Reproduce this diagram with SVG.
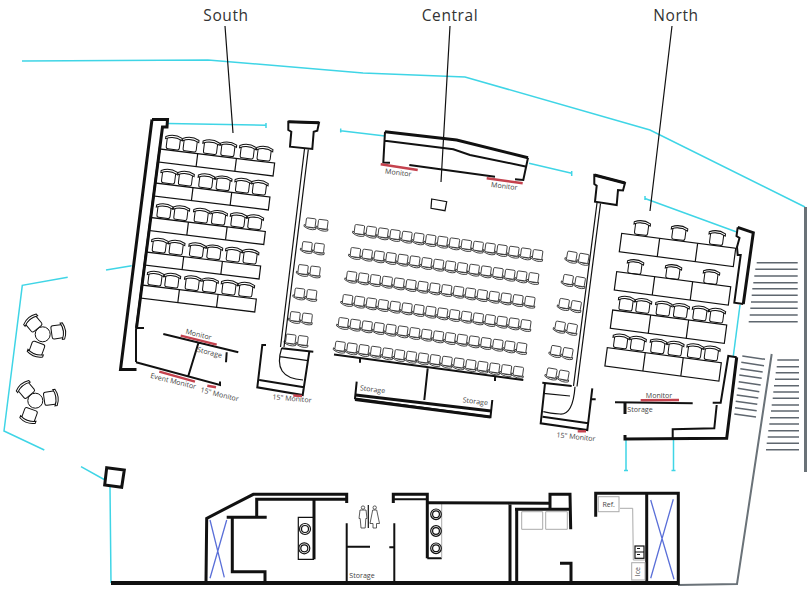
<svg xmlns="http://www.w3.org/2000/svg" width="810" height="590" viewBox="0 0 810 590">
<style>
text{font-family:"Open Sans","Liberation Sans",sans-serif;fill:#444}
.h{font-size:15.5px;fill:#333;text-anchor:middle;letter-spacing:.6px}
.s{font-size:7.1px;text-anchor:middle}
.n{fill:none;stroke:#111;stroke-linejoin:miter}
.w1{stroke-width:1.2}.w2{stroke-width:2}.w3{stroke-width:3}.w4{stroke-width:4}
.cy{fill:none;stroke:#3fd5e6;stroke-width:1.5}
.rd{fill:none;stroke:#c4424e;stroke-width:2.4}
.gr{fill:none;stroke:#5f676f;stroke-width:1.5}
.lg{fill:none;stroke:#aaa;stroke-width:1}
.bl{fill:none;stroke:#5a6fd8;stroke-width:1.3}
.ch{fill:#fff;stroke:#111;stroke-width:1}
.cl{fill:#fff;stroke:#222;stroke-width:.8}
</style>
<defs>
<g id="sc"><rect class="ch" x="-6.6" y="-5.2" width="13.2" height="12" rx="2"/><path class="ch" d="M-8.2-3Q0-7.2 8.2-3L8.2-5.2Q0-9.4-8.2-5.2Z"/></g>
<g id="cc"><path class="cl" d="M-6.3 2Q0 6 5.6 3.5L5.6 5.4Q0 7.6-6.3 3.8Z"/><rect class="cl" x="-4.8" y="-5" width="9.6" height="9" rx="1.2"/></g>
<g id="crow"><use href="#cc" x="0"/><use href="#cc" x="12"/><use href="#cc" x="24"/><use href="#cc" x="36"/><use href="#cc" x="48"/><use href="#cc" x="60"/><use href="#cc" x="72"/><use href="#cc" x="84"/><use href="#cc" x="96"/><use href="#cc" x="108"/><use href="#cc" x="120"/><use href="#cc" x="132"/><use href="#cc" x="144"/><use href="#cc" x="156"/><use href="#cc" x="168"/><use href="#cc" x="180"/></g>
<g id="pair"><use href="#cc"/><use href="#cc" x="12.2"/></g>
<g id="six"><use href="#sc" x="12.5" y="-8"/><use href="#sc" x="29.5" y="-8"/><use href="#sc" x="50" y="-8"/><use href="#sc" x="67.5" y="-8"/><use href="#sc" x="87" y="-8"/><use href="#sc" x="104" y="-8"/></g>
<g id="strow"><use href="#six"/><rect class="n w1" width="115.5" height="13" fill="#fff"/><path class="n w1" d="M38 0v13M77 0v13"/></g>
<g id="ntab"><rect class="n w1" width="115" height="18.5"/><path class="n w1" d="M38.3 0v18.5M76.6 0v18.5"/></g>
<g id="lounge"><circle class="ch" r="7.5" stroke-width="1.3"/><use href="#sc" x="-9.4" y="-11" transform="rotate(-40 -9.4 -11)"/><use href="#sc" x="15.6" y="-2.6" transform="rotate(82 15.6 -2.6)"/><use href="#sc" x="-6" y="15" transform="rotate(200 -6 15)"/></g>
</defs>

<rect width="810" height="590" fill="#fff"/>

<g id="envelope">
<path class="cy" d="M22 61L208 60L363 73L465 77L650 130L805 207"/>
<path class="cy" d="M168 123.5L266 125.3M266 123v5"/>
<path class="cy" d="M340.7 128.5v4M340.7 130.7L385 136"/>
<path class="cy" d="M529 163.3L571.7 173.3M571.7 171v5"/>
<path class="cy" d="M645 196v4M645 198.5L736 231.7"/>
<path class="cy" d="M740 305L733.3 356"/>
<path class="cy" d="M626 440V470M624 470.5h4M673.5 440V470M671.5 470.5h4"/>
<path class="cy" d="M106 270L131.7 265.7"/>
<path class="cy" d="M67.7 277.3L22.3 285.3L4 431L44.3 450"/>
<path class="cy" d="M81 466.7L105 480M110 486.7L111 583"/>
</g>

<g id="stairs">
<path class="gr" d="M756.7 262.7H797.7M755.3 269.3H797.7M754.3 276H797.7M753.3 282.7H797.7M752.3 288.7H797.7M751.7 295.3H797.7M751 302H797.7M750.3 308.3H797.7M749.7 315H797.7M748.7 321.7H797.7"/>
<path class="gr" d="M742.3 356L765 359.3M741.3 362.3L764 365.7M740.3 368.7L762.7 372M739.3 375L761.7 378.3M738.7 381.7L760.7 385M737.7 388.3L759.3 391.7M736.7 395L758.3 398M735.7 401.3L757.3 404.3M735 407.7L756.7 410.7M734.3 414L756 417"/>
<path class="gr" d="M777.3 360H799M776.7 366.7H799M775.7 372.7H799M775 379.3H799M774 385.7H799M773.3 392H799M772.7 398.3H799M771.7 405H799M771 411H799M770 417.7H799M769.3 424H799M768.3 430.7H799M767.7 437H799M766.7 443.3H799M766 449.7H799"/>
<path fill="none" stroke="#6a7278" stroke-width="2" d="M771.7 354L737 584L678 585"/>
<path fill="none" stroke="#6a7278" stroke-width="3" d="M805.5 207V472"/>
</g>

<g id="south-section">
<path class="n w3" d="M152 119.5H167.5L167 127H162.5L136.5 328M152 119.5L120.5 369.5H136.5"/>
<path class="n w2" d="M160 146L136 330V362M136 328H144"/>
<use href="#strow" transform="translate(160 149) rotate(7)"/>
<use href="#strow" transform="translate(155.3 183) rotate(7)"/>
<use href="#strow" transform="translate(150.7 217.5) rotate(7)"/>
<use href="#strow" transform="translate(146 252) rotate(7)"/>
<use href="#strow" transform="translate(141.7 285) rotate(7)"/>
<path class="n w2" d="M163.3 334L238.3 352.3M226.7 352.3L226 362.3M136 362.3L220 385V381.5M198.3 343.3L188.3 376"/>
<path class="rd" d="M180.7 335.7L216.7 344.7M159.3 371.7L195 381.7M207.3 385.7L216 387.3"/>
<text class="s" transform="translate(198 336.8) rotate(14)">Monitor</text>
<text class="s" transform="translate(209 354.8) rotate(14)">Storage</text>
<text class="s" transform="translate(172.7 383.5) rotate(14)">Event Monitor</text>
<text class="s" transform="translate(219 396.8) rotate(14)">15" Monitor</text>
</g>

<g id="south-aisle">
<use href="#pair" transform="translate(310.7 223.3) rotate(7)"/>
<use href="#pair" transform="translate(307 247) rotate(7)"/>
<use href="#pair" transform="translate(303 270) rotate(7)"/>
<use href="#pair" transform="translate(299.5 293.5) rotate(7)"/>
<use href="#pair" transform="translate(295 317) rotate(7)"/>
<use href="#pair" transform="translate(290.7 339.5) rotate(7)"/>
<path class="n w2" d="M288.3 121.7L319 122.7L317.3 130.7L313.7 131.7L312.3 149L290 146.7L291.3 131.7L288.3 130Z"/>
<path class="n w3" d="M288.3 121.7L319 122.7"/>
<path class="n w1" d="M304.5 149L280.5 347M308.3 149.5L284 347"/>
<path class="n w2" d="M266 345H262.3L257.3 387.3L302.7 395L309.3 351.7M281.7 348.3L313.3 351.7M259.3 380L304 387.3"/>
<path class="n w1" d="M280 356.7L308 360.7M281.7 348Q272 378 303 380"/>
<path class="rd" d="M293.3 395.5L302 396"/>
<text class="s" transform="translate(291.7 401) rotate(5)">15" Monitor</text>
</g>

<g id="central-section">
<path class="n w3" d="M385 131.7L456.7 140L528 157.7"/>
<path class="n w2" d="M385 131.7L383.3 162.5L390 162.7M385 140.7L453.3 149.3L470 155L526.7 166.7M528 157.7L523.3 180L515 179.3M409.3 165L495 176.7"/>
<path class="rd" d="M380.7 164.3L417.7 170M486.7 178.3L522.7 183.3"/>
<text class="s" transform="translate(398 175) rotate(7)">Monitor</text>
<text class="s" transform="translate(504 188.5) rotate(7)">Monitor</text>
<polygon class="n w1" points="431.7,199 446.7,201.7 445,210.7 431,208.3"/>
<use href="#crow" transform="translate(359.3 230) rotate(8)"/>
<use href="#crow" transform="translate(355.3 253) rotate(8)"/>
<use href="#crow" transform="translate(351.5 276.7) rotate(8)"/>
<use href="#crow" transform="translate(347.5 300) rotate(8)"/>
<use href="#crow" transform="translate(343.3 323) rotate(8)"/>
<use href="#crow" transform="translate(340 346.7) rotate(8)"/>
<path class="n w2" d="M334 354.5L523.3 380M360 358V362.7M495 377V381"/>
<path class="n w2" d="M427.7 368.3L424.3 400M356.7 381.7L355 398.5L490.5 417L492.3 400"/>
<path class="n w3" d="M355.7 395L491 411M355 399.5L490.5 417"/>
<text class="s" transform="translate(372.3 391.8) rotate(7)">Storage</text>
<text class="s" transform="translate(475 403.8) rotate(7)">Storage</text>
</g>

<g id="north-aisle">
<use href="#pair" transform="translate(571.7 256.7) rotate(10)"/>
<use href="#pair" transform="translate(568 280) rotate(10)"/>
<use href="#pair" transform="translate(564 304) rotate(10)"/>
<use href="#pair" transform="translate(560 326.7) rotate(10)"/>
<use href="#pair" transform="translate(555.7 351) rotate(10)"/>
<use href="#pair" transform="translate(551.7 373.5) rotate(10)"/>
<path class="n w2" d="M594.3 175L625 183L623 190.5L618 190L616.7 205L595 201.7L596.7 185.7L594.3 184Z"/>
<path class="n w3" d="M594.3 175L625 183"/>
<path class="n w1" d="M597 203L573.5 386M600.5 203.5L577 386.5"/>
<path class="n w2" d="M542.3 382.7L571.7 386M545 383.3L540.7 423.3L587.3 430L592.3 388.3M592 399.3H595.7M542.7 416.7L588.3 423.3"/>
<path class="n w1" d="M543.3 393.3L570 396M575 386.7Q573 415 560 414Q550 413.5 543.3 411.7"/>
<path class="rd" d="M577.7 431.3H586"/>
<text class="s" transform="translate(575.7 439.3) rotate(6)">15" Monitor</text>
</g>

<g id="north-section">
<path class="n w3" d="M737.7 227.3L753.3 232.7L743.3 304"/>
<path class="n w2" d="M737.7 227.3L736.5 236L739.5 238L737 247L737.7 255L740.7 255L734.3 302.7L743.3 304"/>
<use href="#sc" transform="translate(641.7 228) rotate(7.5)"/>
<use href="#sc" transform="translate(679 233) rotate(7.5)"/>
<use href="#sc" transform="translate(716.7 238) rotate(7.5)"/>
<use href="#ntab" transform="translate(621.7 233.3) rotate(7.5)"/>
<use href="#sc" transform="translate(635 267) rotate(7.5)"/>
<use href="#sc" transform="translate(673 272) rotate(7.5)"/>
<use href="#sc" transform="translate(711 277) rotate(7.5)"/>
<use href="#ntab" transform="translate(616.7 271.7) rotate(7.5)"/>
<use href="#six" transform="translate(612.7 310) rotate(7.5)"/>
<use href="#ntab" transform="translate(612.7 310) rotate(7.5)"/>
<use href="#six" transform="translate(607.3 347.7) rotate(7.5)"/>
<use href="#ntab" transform="translate(607.3 347.7) rotate(7.5)"/>
<path class="n w3" d="M736.7 357.3L726.7 438.3L625 439V435"/>
<path class="n w2" d="M736.7 357.3L728.3 356L720.7 402.7H712.7M716.7 405L714.3 428.3L672.7 429.3V439M615 402.3L692.7 403.3"/>
<path class="n w3" d="M625 403V414"/>
<path class="rd" d="M640.7 400.3L679 400"/>
<text class="s" x="659" y="397.5">Monitor</text>
<text class="s" x="640" y="412.3">Storage</text>
</g>

<g id="lounge-area">
<use href="#lounge" transform="translate(42.7 334.3)"/>
<use href="#lounge" transform="translate(35.3 400.7)"/>
<polygon class="n w3" points="106.7,467.7 124.3,470 121.7,487.3 104.7,485"/>
</g>

<g id="back-of-house">
<path class="n w4" d="M111 583H678"/>
<path class="n w3" d="M206 581.7L206.7 518.3L253.3 494.3H346.7V503M256.7 517.3V499.3H346.7M226.7 517.3H266.7M232.3 517.3V571.7H265V582.7"/>
<path class="bl" d="M226.7 520L210 578.3M210 520L224.3 577.3"/>
<path class="n w3" d="M314 500V559.3"/>
<path class="n w1" d="M314 517.3H298.3V559.3H314"/>
<g class="n w1"><circle cx="305" cy="529" r="5.5"/><circle cx="305" cy="529" r="3.5"/><circle cx="304.3" cy="548.3" r="5.5"/><circle cx="304.3" cy="548.3" r="3.5"/></g>
<path class="n w1" d="M368.3 505V528"/>
<g fill="none" stroke="#333" stroke-width=".8"><circle cx="363" cy="507.6" r="1.7"/><path d="M360 510H366L367 518.5H365.8L365.2 528H361L360.2 518.5H359Z"/><circle cx="374.7" cy="507.6" r="1.7"/><path d="M372.7 510H376.7L379.5 523.5H376.5V528H373V523.5H370Z"/></g>
<path class="n w2" d="M346.7 523.3V583M346.7 546.7H370M394.3 523.3V583M389.3 547.3H394.3"/>
<text class="s" x="362" y="578">Storage</text>
<path class="n w3" d="M393.3 503V494.3H427.3V558.3"/>
<path class="n w2" d="M393.3 499.3H427.3M427.3 558.3H441.7"/>
<path class="lg" d="M441.7 503V558"/>
<g class="n w1"><circle cx="436" cy="514.3" r="5.3"/><circle cx="436" cy="514.3" r="3.4"/><circle cx="436" cy="531" r="5.3"/><circle cx="436" cy="531" r="3.4"/><circle cx="436" cy="548.3" r="5.3"/><circle cx="436" cy="548.3" r="3.4"/></g>
<path class="n w3" d="M427 502.7L550 503.3M550 509V494.3H570L570.7 529.3M515 509.3H570.7M510 503.3V583M516.7 509.3V583M560 563.3H571V582.7"/>
<path class="lg" d="M521.7 511.7H542.7V529.3H521.7ZM545.7 511.7H567.3V529.3H545.7Z"/>
<path class="n w3" d="M595.7 516.7V493.3H678.3V585M646.7 493.3V583"/>
<path class="bl" d="M650.7 500L674 579.3M673.3 499.3L650.7 578.3"/>
<rect class="lg" x="598.3" y="496.7" width="20.7" height="15"/>
<text x="608.7" y="507" font-size="7" text-anchor="middle">Ref.</text>
<path class="lg" d="M620 508.3H632.7L633.3 560H645"/>
<rect class="n w1" x="635" y="546" width="9" height="12.3"/>
<path class="n w1" d="M635 552H644M637 548.5h3M637 554.5h3"/>
<rect class="lg" x="631.7" y="562.7" width="13.3" height="17.3"/>
<text font-size="7" text-anchor="middle" transform="translate(640 571.7) rotate(-90)">Ice</text>
</g>

<g id="connectors">
<path class="n w1" d="M225 26L233 133M450 26L441 182M672 26L650 211"/>
</g>
<g id="labels">
<text class="h" x="226" y="21">South</text>
<text class="h" x="450" y="21">Central</text>
<text class="h" x="676" y="21">North</text>
</g>
</svg>
